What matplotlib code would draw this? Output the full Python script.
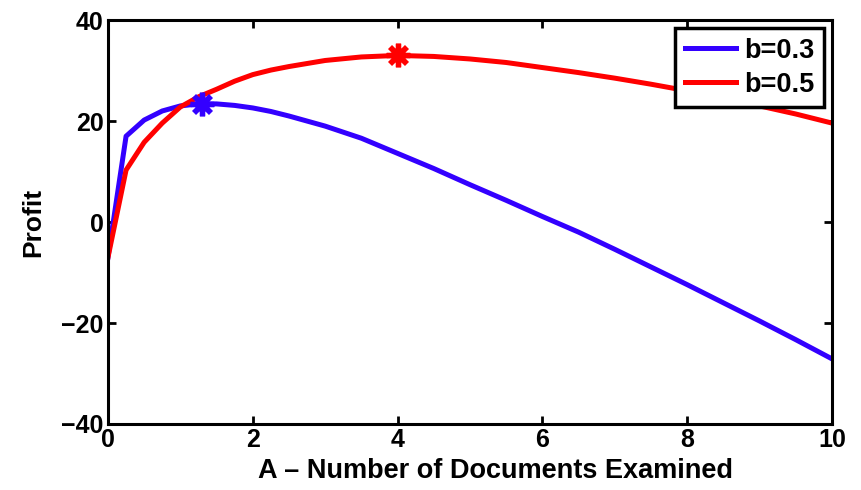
import matplotlib
matplotlib.use("Agg")
import matplotlib.pyplot as plt

plt.rcParams['font.family'] = ['Liberation Sans', 'DejaVu Sans']
plt.rcParams['font.weight'] = 'bold'

A = [0, 0.25, 0.5, 0.75, 1.0, 1.25, 1.5, 1.75, 2, 2.25, 2.5, 3, 3.5, 4, 4.5,
     5, 5.5, 6, 6.5, 7, 7.5, 8, 8.5, 9, 9.5, 10]
profit_b03 = [-7, 17, 20.2, 22, 23, 23.4, 23.4, 23.1, 22.6, 21.9, 21, 19, 16.6,
              13.6, 10.6, 7.4, 4.3, 1.1, -2, -5.4, -8.9, -12.4, -16, -19.6,
              -23.3, -27.1]
profit_b05 = [-7, 10.3, 15.8, 19.6, 22.8, 24.8, 26.3, 27.9, 29.2, 30.1, 30.8,
              32, 32.7, 33, 32.8, 32.3, 31.6, 30.6, 29.6, 28.5, 27.3, 26, 24.6,
              23, 21.4, 19.6]
peak_b03 = (1.3, 23.3)
peak_b05 = (4.0, 33.0)
labels = ['b=0.3', 'b=0.5']
xticks = [0, 2, 4, 6, 8, 10]
yticks = [-40, -20, 0, 20, 40]

blue = '#3300ff'
red = '#ff0000'

fig = plt.figure(figsize=(8.61, 4.90), dpi=100)
ax = fig.add_axes([0.1254, 0.1347, 0.8409, 0.8243])

ax.plot(A, profit_b03, color=blue, lw=3.6, label=labels[0], solid_joinstyle='round')
ax.plot(A, profit_b05, color=red, lw=3.6, label=labels[1], solid_joinstyle='round')
for (px, py), c in [(peak_b03, blue), (peak_b05, red)]:
    ax.plot([px], [py], marker=(8, 2, 0), color=c, markersize=17, mew=3.8,
            linestyle='none')

ax.set_xlim(0, 10)
ax.set_ylim(-40, 40)
ax.set_xticks(xticks)
ax.set_yticks(yticks)
ax.tick_params(direction='in', top=True, right=True, length=6, width=2,
               labelsize=18, pad=3)
for lab in ax.get_xticklabels() + ax.get_yticklabels():
    lab.set_fontweight('bold')
for s in ax.spines.values():
    s.set_linewidth(2.2)

ax.set_xlabel('A – Number of Documents Examined', fontsize=19.5, fontweight='bold')
ax.xaxis.set_label_coords(0.535, -0.083)
ax.set_ylabel('Profit', fontsize=19, fontweight='bold', labelpad=12)

leg = ax.legend(loc='upper right', fontsize=19.5, frameon=True, fancybox=False,
                edgecolor='black', framealpha=1.0, borderaxespad=0.3,
                handlelength=1.9, handletextpad=0.3, borderpad=0.35,
                labelspacing=0.3)
leg.get_frame().set_linewidth(2.5)
for t in leg.get_texts():
    t.set_fontweight('bold')

fig.savefig('out.png', dpi=100)
